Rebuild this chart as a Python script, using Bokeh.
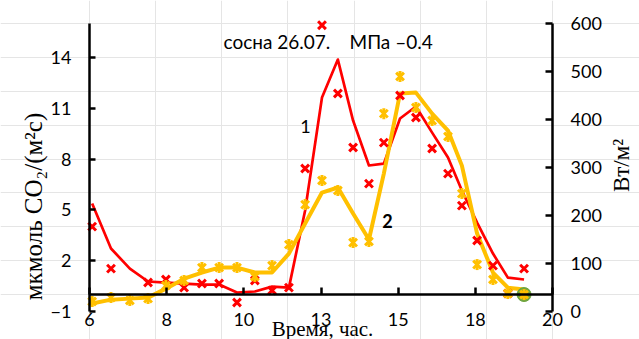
import math
from bokeh.plotting import figure
from bokeh.models import LinearAxis, Range1d, FixedTicker, Label
from bokeh.embed import file_html
from bokeh.resources import INLINE

# ---- data ----
hours = [6.08, 6.65, 7.22, 7.77, 8.31, 8.86, 9.40, 9.92, 10.46, 11.00,
         11.52, 12.03, 12.52, 13.03, 13.51, 13.97, 14.45, 14.90, 15.39, 15.87,
         16.36, 16.84, 17.26, 17.72, 18.20, 18.65, 19.14]
nan = float("nan")
red_points = [4.01, 1.53, nan, 0.71, 0.89, 0.41, 0.65, 0.65, -0.47, 0.83,
              0.24, 0.41, 7.44, 15.9, 11.87, 8.68, 6.55, 8.97, 11.75, 10.45,
              8.62, 7.14, 5.25, 3.19, 1.71, 0.06, 1.53]
red_line = [5.37, 2.72, 1.53, 0.77, 0.71, 0.65, 0.59, 0.59, 0.12, 0.18,
            0.47, 0.41, 4.96, 11.63, 13.87, 10.27, 7.62, 7.73, 10.39, 11.10,
            9.56, 8.09, 6.14, 4.25, 2.42, 1.00, 0.89]
yellow_points = [-0.41, -0.18, -0.35, -0.24, 0.53, 0.83, 1.59, 1.59, 1.59, 1.06,
                 1.71, 2.95, 5.31, 6.73, 6.14, 3.07, 3.13, 10.68, 12.87, 11.04,
                 10.27, 9.33, 5.96, 1.77, 0.89, 0.06, 0.0]
yellow_line = [-0.53, -0.30, -0.24, -0.18, 0.35, 0.94, 1.30, 1.59, 1.59, 1.30,
               1.30, 2.42, 4.19, 6.02, 6.32, 4.78, 3.25, 7.14, 11.87, 11.92,
               10.68, 9.68, 7.61, 3.60, 1.30, 0.41, 0.30]
end_hour = [19.14]
end_value = [0.0]

x_tick_labels = ["6", "8", "10", "13", "15", "18", "20"]
left_ticks = [-1, 2, 5, 8, 11, 14]
right_ticks = [0, 100, 200, 300, 400, 500, 600]

RED = "#FF0000"
YEL = "#FFC000"
GREEN = "#6FA53F"
SANS = "Lato"
SERIF = "Liberation Serif"

# ---- layout: the frame covers the whole canvas, axes are placed inside ----
W, H = 639, 339
X0, X1 = 6.0, 20.0          # axis extent (hours)
Y0, Y1 = -1.0, 16.0         # left axis extent
R0, R1 = 0.0, 600.0         # right axis extent
AX_L, AX_R = 89, 552        # canvas px of x = X0, X1
AX_B, AX_T = 311, 23        # canvas px of y = Y0, Y1
sx = (X1 - X0) / (AX_R - AX_L)
sy = (Y1 - Y0) / (AX_B - AX_T)
x_range = Range1d(X0 - AX_L * sx, X1 + (W - AX_R) * sx)
y_range = Range1d(Y0 - (H - AX_B) * sy, Y1 + AX_T * sy)
k = (R1 - R0) / (Y1 - Y0)
right_range = Range1d(R0 + (y_range.start - Y0) * k, R0 + (y_range.end - Y0) * k)

def cx(px):  # canvas px -> hours
    return X0 + (px - AX_L) * sx

def cy(py):  # canvas px -> left value
    return Y0 + (AX_B - py) * sy

p = figure(width=W, height=H, x_range=x_range, y_range=y_range,
           output_backend="svg", toolbar_location=None,
           x_axis_location=None, y_axis_location=None, min_border=0)
p.outline_line_color = None
p.background_fill_color = "white"
p.border_fill_color = "white"
p.extra_y_ranges = {"right": right_range}

xt = [X0 + (X1 - X0) * i / 6 for i in range(7)]

# horizontal axis line at y = 0 with inward ticks
ax0 = LinearAxis(fixed_location=0, bounds=(X0, X1), ticker=FixedTicker(ticks=xt),
                 axis_line_width=2.5, axis_line_color="black",
                 major_tick_in=7, major_tick_out=0, major_tick_line_width=2.5,
                 minor_tick_line_color=None, major_label_text_font_size="0px",
                 major_label_overrides={t: "" for t in xt})
p.add_layout(ax0, "below")

# tick labels along the bottom
ax_lab = LinearAxis(fixed_location=Y0, bounds=(X0, X1), ticker=FixedTicker(ticks=xt),
                    axis_line_color=None, major_tick_line_color=None,
                    minor_tick_line_color=None, major_label_standoff=-5,
                    major_label_text_font=SANS, major_label_text_font_size="18px",
                    major_label_text_color="black",
                    major_label_overrides=dict(zip(xt, x_tick_labels)))
p.add_layout(ax_lab, "below")

yl = LinearAxis(fixed_location=X0, bounds=(Y0, Y1), ticker=FixedTicker(ticks=left_ticks),
                axis_line_width=2.5, major_tick_in=6, major_tick_out=0,
                major_tick_line_width=2.5, minor_tick_line_color=None,
                major_label_standoff=18, major_label_text_font=SANS,
                major_label_text_font_size="18px", major_label_text_color="black")
p.add_layout(yl, "left")

yr = LinearAxis(y_range_name="right", fixed_location=X1, bounds=(R0, R1),
                ticker=FixedTicker(ticks=right_ticks),
                axis_line_width=2.5, major_tick_in=7, major_tick_out=0,
                major_tick_line_width=2.5, minor_tick_line_color=None,
                major_label_standoff=18, major_label_text_font=SANS,
                major_label_text_font_size="18px", major_label_text_color="black")
p.add_layout(yr, "right")

# lines
p.line(hours, red_line, line_color=RED, line_width=2.7, line_join="round")
p.line(hours, yellow_line, line_color=YEL, line_width=4, line_join="round")
# markers
p.scatter(hours, red_points, marker="x", size=11, line_color=RED, line_width=3)
p.scatter(end_hour, end_value, marker="circle", size=14, fill_color=GREEN, line_color=GREEN)
p.scatter(hours, yellow_points, marker="x", size=11, line_color=YEL, line_width=3)
p.scatter(hours, yellow_points, marker="dash", angle=math.pi / 2, size=11,
          line_color=YEL, line_width=3)

# texts
def lab(px, py, text, font=SANS, size="18px", align="left", baseline="alphabetic",
        angle=0, style="normal"):
    p.add_layout(Label(x=cx(px), y=cy(py), text=text, text_font=font, text_font_size=size,
                       text_align=align, text_baseline=baseline, angle=angle,
                       text_font_style=style, text_color="black"))

lab(223, 41, "сосна 26.07.", size="19px")
lab(349, 41, "МПа –0.4", size="19px")
lab(305, 126, "1", align="center")
lab(387, 220, "2", align="center", style="bold")
lab(33, 206, "мкмоль CO₂/(м²с)", font=SERIF, size="25px", align="center", angle=math.pi / 2)
lab(621, 165, "Вт/м²", font=SERIF, size="23px", align="center", angle=math.pi / 2)
lab(322, 328, "Время, час.", font=SERIF, size="21px", align="center")

open("out.html", "w").write(file_html(p, INLINE))
